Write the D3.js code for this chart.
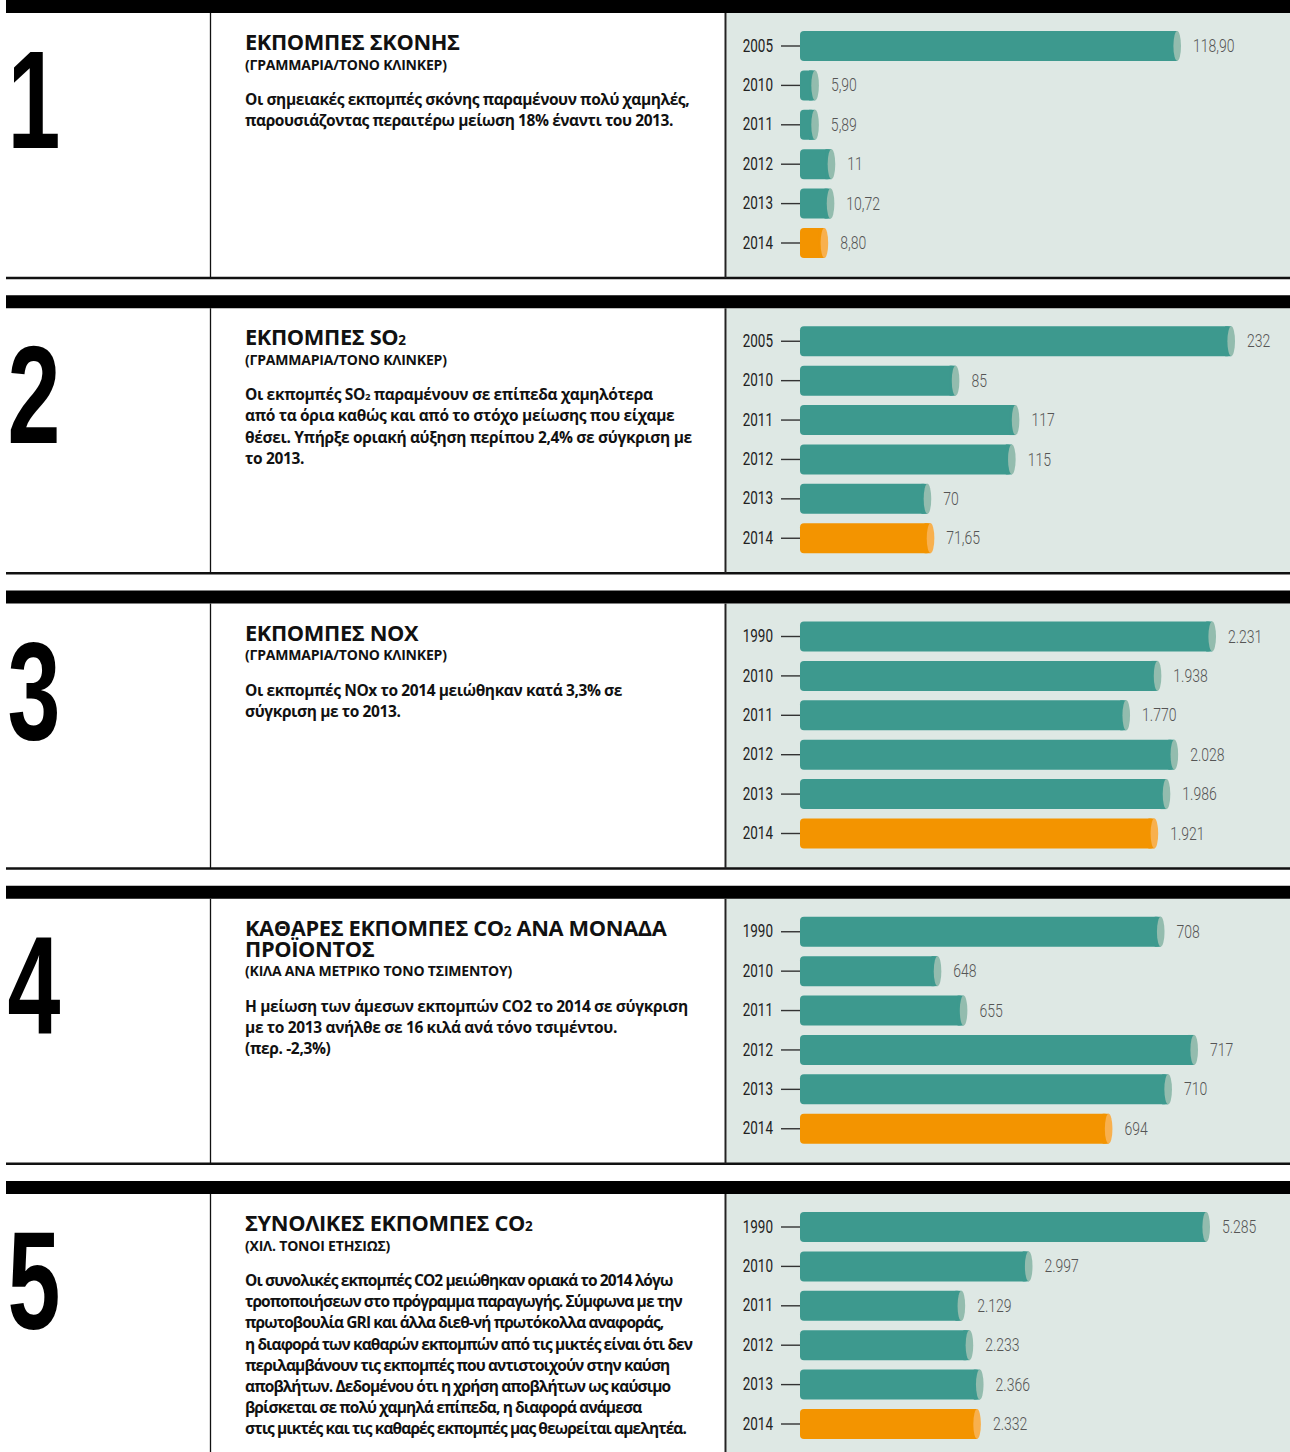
<!DOCTYPE html>
<html>
<head>
<meta charset="utf-8">
<script src="https://cdn.jsdelivr.net/npm/d3@7"></script>
<style>
  html, body { margin: 0; padding: 0; background: #fff; }
  svg { display: block; }
</style>
</head>
<body>
<script>
// ---------- DATA ----------
const panelNumbers = ["1", "2", "3", "4", "5"];

const years1 = ["2005", "2010", "2011", "2012", "2013", "2014"];
const values1 = [118.90, 5.90, 5.89, 11, 10.72, 8.80];
const labels1 = ["118,90", "5,90", "5,89", "11", "10,72", "8,80"];

const years2 = ["2005", "2010", "2011", "2012", "2013", "2014"];
const values2 = [232, 85, 117, 115, 70, 71.65];
const labels2 = ["232", "85", "117", "115", "70", "71,65"];

const years3 = ["1990", "2010", "2011", "2012", "2013", "2014"];
const values3 = [2231, 1938, 1770, 2028, 1986, 1921];
const labels3 = ["2.231", "1.938", "1.770", "2.028", "1.986", "1.921"];

const years4 = ["1990", "2010", "2011", "2012", "2013", "2014"];
const values4 = [708, 648, 655, 717, 710, 694];
const labels4 = ["708", "648", "655", "717", "710", "694"];

const years5 = ["1990", "2010", "2011", "2012", "2013", "2014"];
const values5 = [5285, 2997, 2129, 2233, 2366, 2332];
const labels5 = ["5.285", "2.997", "2.129", "2.233", "2.366", "2.332"];

const highlightYear = "2014";

// titles: array of lines; each line is array of [text, isSubscript]
const titles = [
  [[["ΕΚΠΟΜΠΕΣ ΣΚΟΝΗΣ", false]]],
  [[["ΕΚΠΟΜΠΕΣ SO", false], ["2", true]]],
  [[["ΕΚΠΟΜΠΕΣ ΝΟΧ", false]]],
  [[["ΚΑΘΑΡΕΣ ΕΚΠΟΜΠΕΣ CO", false], ["2", true], [" ΑΝΑ ΜΟΝΑΔΑ", false]], [["ΠΡΟΪΟΝΤΟΣ", false]]],
  [[["ΣΥΝΟΛΙΚΕΣ ΕΚΠΟΜΠΕΣ CO", false], ["2", true]]]
];
const subtitles = [
  "(ΓΡΑΜΜΑΡΙΑ/ΤΟΝΟ ΚΛΙΝΚΕΡ)",
  "(ΓΡΑΜΜΑΡΙΑ/ΤΟΝΟ ΚΛΙΝΚΕΡ)",
  "(ΓΡΑΜΜΑΡΙΑ/ΤΟΝΟ ΚΛΙΝΚΕΡ)",
  "(ΚΙΛΑ ΑΝΑ ΜΕΤΡΙΚΟ ΤΟΝΟ ΤΣΙΜΕΝΤΟΥ)",
  "(ΧΙΛ. ΤΟΝΟΙ ΕΤΗΣΙΩΣ)"
];
const bodies = [
  [[["Οι σημειακές εκπομπές σκόνης παραμένουν πολύ χαμηλές,", false]],
   [["παρουσιάζοντας περαιτέρω μείωση 18% έναντι του 2013.", false]]],
  [[["Οι εκπομπές SO", false], ["2", true], [" παραμένουν σε επίπεδα χαμηλότερα", false]],
   [["από τα όρια καθώς και από το στόχο μείωσης που είχαμε", false]],
   [["θέσει. Υπήρξε οριακή αύξηση περίπου 2,4% σε σύγκριση με", false]],
   [["το 2013.", false]]],
  [[["Οι εκπομπές ΝΟx το 2014 μειώθηκαν κατά 3,3% σε", false]],
   [["σύγκριση με το 2013.", false]]],
  [[["Η μείωση των άμεσων εκπομπών CO2 το 2014 σε σύγκριση", false]],
   [["με το 2013 ανήλθε σε 16 κιλά ανά τόνο τσιμέντου.", false]],
   [["(περ. -2,3%)", false]]],
  [[["Οι συνολικές εκπομπές CO2 μειώθηκαν οριακά το 2014 λόγω", false]],
   [["τροποποιήσεων στο πρόγραμμα παραγωγής. Σύμφωνα με την", false]],
   [["πρωτοβουλία GRI και άλλα διεθ-νή πρωτόκολλα αναφοράς,", false]],
   [["η διαφορά των καθαρών εκπομπών από τις μικτές είναι ότι δεν", false]],
   [["περιλαμβάνουν τις εκπομπές που αντιστοιχούν στην καύση", false]],
   [["αποβλήτων. Δεδομένου ότι η χρήση αποβλήτων ως καύσιμο", false]],
   [["βρίσκεται σε πολύ χαμηλά επίπεδα, η διαφορά ανάμεσα", false]],
   [["στις μικτές και τις καθαρές εκπομπές μας θεωρείται αμελητέα.", false]]]
];

// ---------- LAYOUT / STYLE ----------
const W = 1290, H = 1452;
const panels = [
  { years: years1, values: values1, labels: labels1, domain: [0, 118.9], rangeEnd: 1181, bodyLS: -0.42 },
  { years: years2, values: values2, labels: labels2, domain: [0, 232],   rangeEnd: 1235, bodyLS: -0.35 },
  { years: years3, values: values3, labels: labels3, domain: [0, 2231],  rangeEnd: 1216, bodyLS: -0.4 },
  { years: years4, values: values4, labels: labels4, domain: [610, 717], rangeEnd: 1198, bodyLS: -0.35 },
  { years: years5, values: values5, labels: labels5, domain: [0, 5285],  rangeEnd: 1210, bodyLS: -0.9 }
];
const panelStep = 295.25, bandH = 13, bottomOff = 278;
const xLeft = 6, xDiv1 = 210.5, xDiv2 = 725.5, greyX = 726.5;
const barX0 = 800, barH = 30, capRx = 3.8;
const teal = "#3d998e", tealCap = "#93bcae", orange = "#f39400", orangeCap = "#f8b04e";
const greyBg = "#dee8e4";
const textFont = "'Open Sans', 'Noto Sans', 'DejaVu Sans', sans-serif";
const numFont = "Roboto, 'Liberation Sans', sans-serif";
const bigFont = "'Liberation Sans', Arial, sans-serif";

const svg = d3.select("body").append("svg").attr("width", W).attr("height", H);
svg.append("rect").attr("width", W).attr("height", H).attr("fill", "#fff");

function writeRuns(textSel, runs, size) {
  runs.forEach(([t, sub]) => {
    textSel.append("tspan")
      .attr("font-size", sub ? size * 0.62 : size)
      .text(t);
  });
}

panels.forEach((p, i) => {
  const top = i * panelStep;
  const innerTop = top + bandH;
  const bottom = Math.min(top + bottomOff, H + 10);
  const g = svg.append("g");

  // grey chart background
  g.append("rect").attr("x", greyX).attr("y", innerTop)
    .attr("width", W - greyX).attr("height", bottom - innerTop).attr("fill", greyBg);

  // top band
  g.append("rect").attr("x", xLeft).attr("y", top).attr("width", W - xLeft).attr("height", bandH).attr("fill", "#000");
  // bottom rule
  if (top + bottomOff < H) {
    g.append("line").attr("x1", xLeft).attr("x2", W).attr("y1", top + bottomOff).attr("y2", top + bottomOff)
      .attr("stroke", "#111").attr("stroke-width", 2.5);
  }
  // vertical dividers
  g.append("line").attr("x1", xDiv1).attr("x2", xDiv1).attr("y1", innerTop).attr("y2", bottom)
    .attr("stroke", "#111").attr("stroke-width", 1.3);
  g.append("line").attr("x1", xDiv2).attr("x2", xDiv2).attr("y1", innerTop).attr("y2", bottom)
    .attr("stroke", "#222").attr("stroke-width", 2);

  // big number
  g.append("text")
    .attr("transform", `translate(34,${innerTop + 135}) scale(0.68,1)`)
    .attr("text-anchor", "middle")
    .attr("font-family", bigFont).attr("font-weight", 700).attr("font-size", 140)
    .attr("fill", "#000").text(panelNumbers[i]);

  // titles
  let y = innerTop + 37;
  titles[i].forEach(line => {
    const t = g.append("text").attr("x", 245).attr("y", y)
      .attr("font-family", textFont).attr("font-weight", 700).attr("font-size", 21.8)
      .attr("letter-spacing", -0.35).attr("fill", "#111");
    writeRuns(t, line, 21.8);
    y += 21;
  });
  y -= 21;
  y += 19.5;
  g.append("text").attr("x", 245).attr("y", y)
    .attr("font-family", textFont).attr("font-weight", 700).attr("font-size", 14)
    .attr("letter-spacing", -0.2).attr("fill", "#111").text(subtitles[i]);
  y += 35.5;
  bodies[i].forEach(line => {
    const t = g.append("text").attr("x", 245).attr("y", y)
      .attr("font-family", textFont).attr("font-weight", 700).attr("font-size", 15.5)
      .attr("letter-spacing", p.bodyLS).attr("fill", "#111");
    writeRuns(t, line, 15.5);
    y += 21.2;
  });

  // bar chart
  const yS = d3.scalePoint().domain(p.years).range([top + 46, top + 243]);
  const xS = d3.scaleLinear().domain(p.domain).range([barX0, p.rangeEnd]);

  const rows = p.years.map((yr, k) => ({ yr, v: p.values[k], lab: p.labels[k] }));
  const row = g.selectAll("g.row").data(rows).join("g").attr("class", "row");

  row.append("line")
    .attr("x1", 781).attr("x2", barX0)
    .attr("y1", d => yS(d.yr)).attr("y2", d => yS(d.yr))
    .attr("stroke", "#333").attr("stroke-width", 1.4);

  row.append("text")
    .attr("transform", d => `translate(773,${yS(d.yr)}) scale(0.77,1)`)
    .attr("text-anchor", "end").attr("dominant-baseline", "central")
    .attr("font-family", numFont).attr("font-weight", 400).attr("font-size", 17.5)
    .attr("fill", "#222").text(d => d.yr);

  row.append("rect")
    .attr("x", barX0).attr("y", d => yS(d.yr) - barH / 2)
    .attr("width", d => Math.max(0, xS(d.v) - capRx - barX0))
    .attr("height", barH).attr("rx", 4)
    .attr("fill", d => d.yr === highlightYear ? orange : teal);
  row.append("rect")
    .attr("x", d => Math.max(barX0 + 4, xS(d.v) - capRx - 6)).attr("y", d => yS(d.yr) - barH / 2)
    .attr("width", d => Math.min(6, xS(d.v) - capRx - barX0 - 4))
    .attr("height", barH)
    .attr("fill", d => d.yr === highlightYear ? orange : teal);
  row.append("ellipse")
    .attr("cx", d => xS(d.v) - capRx).attr("cy", d => yS(d.yr))
    .attr("rx", capRx).attr("ry", barH / 2)
    .attr("fill", d => d.yr === highlightYear ? orangeCap : tealCap);

  row.append("text")
    .attr("transform", d => `translate(${xS(d.v) + 12},${yS(d.yr)}) scale(0.8,1)`)
    .attr("dominant-baseline", "central")
    .attr("font-family", numFont).attr("font-weight", 300).attr("font-size", 17.5)
    .attr("fill", "#555").text(d => d.lab);
});
</script>
</body>
</html>
